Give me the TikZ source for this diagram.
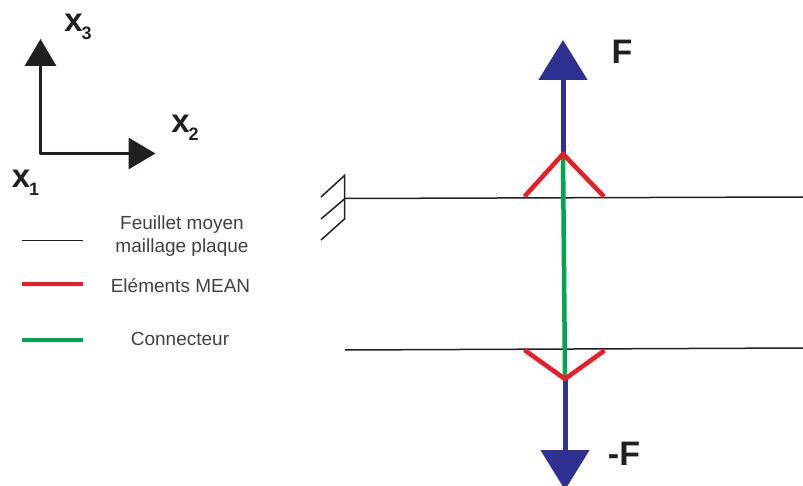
\documentclass[tikz,border=0pt]{standalone}
\usepackage{fontspec}
\setmainfont{Liberation Sans}
\usetikzlibrary{arrows.meta,positioning}
\definecolor{meanred}{RGB}{237,28,36}
\definecolor{connectgreen}{RGB}{0,166,81}
\definecolor{forceblue}{RGB}{46,49,146}
\definecolor{legendgrey}{RGB}{65,65,67}
\definecolor{inkblack}{RGB}{35,31,32}
\newcommand{\axislabel}[1]{\fontsize{33}{33}\selectfont\bfseries x\kern-1pt\raisebox{-8pt}{\fontsize{18}{18}\selectfont #1}}
\begin{document}
\begin{tikzpicture}[
  x=1pt,y=-1pt,
  axisarr/.style={-{Triangle[length=27pt,width=31pt]},line width=3.4pt,line cap=round,draw=inkblack},
  forcearr/.style={-{Triangle[length=40pt,width=48pt]},line width=5pt,draw=forceblue},
  plate/.style={line width=1.5pt,draw=inkblack},
  mean/.style={line width=4.5pt,draw=meanred},
  connect/.style={line width=4.5pt,draw=connectgreen},
  legendtext/.style={font=\fontsize{19}{23}\selectfont,text=legendgrey,align=center,inner sep=0pt},
  boldtext/.style={text=inkblack,inner sep=0pt},
  forcetext/.style={font=\fontsize{34}{34}\selectfont\bfseries,text=inkblack,inner sep=0pt}
]
\clip (0,0) rectangle (803,486);

% axes
\coordinate (orig) at (40.5,153.5);
\coordinate (x3tip) at (40.5,39);
\coordinate (x2tip) at (155.5,153.5);
\draw[axisarr] (orig) -- (x3tip);
\draw[axisarr] (orig) -- (x2tip);
\node[boldtext] (x3) at (78,27) {\axislabel{3}};
\node[boldtext] (x2) at (185,128) {\axislabel{2}};
\node[boldtext] (x1) at (25.5,182.5) {\axislabel{1}};

% legend
\coordinate (plateA) at (22,240.5);
\coordinate (plateB) at (83,240.5);
\coordinate (meanA) at (22,284);
\coordinate (meanB) at (83,284);
\coordinate (connectA) at (22,340);
\coordinate (connectB) at (83,340);
\draw[plate] (plateA) -- (plateB);
\draw[mean] (meanA) -- (meanB);
\draw[connect] (connectA) -- (connectB);
\node[legendtext] (platetext) at (182,236) {Feuillet moyen\\maillage plaque};
\node[legendtext] (meantext) at (180.5,286) {Eléments MEAN};
\node[legendtext] (connecttext) at (180,339) {Connecteur};

% plates
\coordinate (topL) at (345,198.5);
\coordinate (topR) at (803,197);
\coordinate (botL) at (345,350);
\coordinate (botR) at (803,348);
\draw[plate] (topL) -- (topR);
\draw[plate] (botL) -- (botR);

% clamp
\coordinate (wallA) at (344.5,175.5);
\coordinate (wallB) at (344.5,219);
\coordinate (hatchA) at (321,197);
\coordinate (hatchB) at (321,219);
\coordinate (hatchC) at (321,240);
\draw[plate] (hatchA) -- (wallA) -- (wallB) -- (hatchC);
\draw[plate] (hatchB) -- (topL);

% forces
\coordinate (apexT) at (563,154);
\coordinate (apexB) at (565,379);
\coordinate (tipT) at (563,40);
\coordinate (tipB) at (565,490);
\draw[forcearr] (apexT) -- (tipT);
\draw[forcearr] (apexB) -- (tipB);
\node[forcetext] (ftop) at (622,52) {F};
\node[forcetext] (fbot) at (624,454) {-F};

% connector and MEAN elements
\coordinate (meanTL) at (524.5,196.5);
\coordinate (meanTR) at (604,196.5);
\coordinate (meanBL) at (524.5,350);
\coordinate (meanBR) at (604.5,350.5);
\draw[connect] (apexT) -- (apexB);
\draw[mean] (meanTL) -- (apexT) -- (meanTR);
\draw[mean] (meanBL) -- (apexB) -- (meanBR);
\end{tikzpicture}
\end{document}
